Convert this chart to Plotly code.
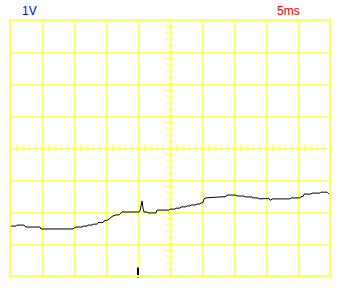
import plotly.graph_objects as go

# time (ms) and voltage (V)
time_ms = [0, 0.94, 1.09, 2.19, 2.5, 4.69, 4.84, 9.84, 10.0, 10.31, 11.25, 11.41, 12.03,
           12.19, 12.81, 12.97, 13.59, 13.75, 14.53, 14.69, 15.31, 15.63, 15.94, 16.56,
           16.88, 17.03, 17.34, 17.5, 20.16, 20.31, 20.47, 20.63, 20.78, 20.94, 21.41,
           21.56, 22.81, 22.97, 24.84, 25.0, 25.78, 25.94, 26.56, 26.72, 27.5, 27.66,
           28.13, 28.28, 29.06, 29.22, 29.69, 29.84, 30.16, 30.31, 30.63, 31.72, 31.88,
           32.81, 33.75, 33.91, 35.31, 35.47, 36.56, 36.72, 37.81, 37.97, 38.75, 38.91,
           39.69, 39.84, 40.47, 40.63, 40.78, 40.94, 43.75, 43.91, 45.31, 45.47, 45.78,
           45.94, 47.03, 47.19, 48.44, 48.59, 49.53, 49.69, 50.0]
volts = [-2.44, -2.44, -2.41, -2.41, -2.47, -2.47, -2.53, -2.53, -2.50, -2.47, -2.47, -2.44,
         -2.44, -2.41, -2.41, -2.38, -2.38, -2.33, -2.33, -2.28, -2.25, -2.19, -2.14, -2.09,
         -2.08, -2.09, -2.03, -2.00, -2.00, -1.97, -1.81, -1.66, -1.88, -2.00, -2.00,
         -2.03, -2.03, -1.94, -1.94, -1.91, -1.91, -1.88, -1.88, -1.84, -1.84, -1.81,
         -1.81, -1.78, -1.78, -1.75, -1.75, -1.72, -1.70, -1.59, -1.56, -1.56, -1.54,
         -1.53, -1.52, -1.47, -1.47, -1.50, -1.50, -1.53, -1.53, -1.56, -1.56, -1.59,
         -1.59, -1.58, -1.58, -1.63, -1.63, -1.59, -1.59, -1.56, -1.56, -1.52, -1.52,
         -1.44, -1.44, -1.41, -1.41, -1.38, -1.38, -1.42, -1.44]

volt_label = "1V"
time_label = "5ms"
trigger_time = 20.0
x_range = [0, 50]
y_range = [-4, 4]
x_div = 5
y_div = 1

GRID = "#ffff5a"

fig = go.Figure()

# center-axis minor ticks
minor_y = [y_range[0] + i * y_div / 5 for i in range(int((y_range[1] - y_range[0]) / y_div * 5) + 1)]
minor_x = [x_range[0] + i * x_div / 5 for i in range(int((x_range[1] - x_range[0]) / x_div * 5) + 1)]
xc = (x_range[0] + x_range[1]) / 2
yc = (y_range[0] + y_range[1]) / 2
fig.add_trace(go.Scatter(x=[xc] * len(minor_y), y=minor_y, mode="markers",
                         marker=dict(symbol="line-ew", size=6, line=dict(color=GRID, width=1)),
                         hoverinfo="skip", showlegend=False))
fig.add_trace(go.Scatter(x=minor_x, y=[yc] * len(minor_x), mode="markers",
                         marker=dict(symbol="line-ns", size=6, line=dict(color=GRID, width=1)),
                         hoverinfo="skip", showlegend=False))

fig.add_trace(go.Scatter(x=time_ms, y=volts, mode="lines",
                         line=dict(color="black", width=1), showlegend=False))

# trigger marker
fig.add_trace(go.Scatter(x=[trigger_time], y=[-3.89], mode="markers",
                         marker=dict(symbol="line-ns", size=7, line=dict(color="black", width=2)),
                         showlegend=False, cliponaxis=False))

fig.add_shape(type="rect", xref="paper", yref="paper", x0=0, x1=1, y0=0, y1=1,
              line=dict(color=GRID, width=2))

fig.add_annotation(text=volt_label, xref="paper", yref="paper", x=0.031, y=1.0,
                   xanchor="left", yanchor="bottom", showarrow=False,
                   font=dict(family="Liberation Sans, Arial", size=12, color="#0000e6"))
fig.add_annotation(text=time_label, xref="paper", yref="paper", x=0.912, y=1.0,
                   xanchor="right", yanchor="bottom", showarrow=False,
                   font=dict(family="Liberation Sans, Arial", size=12, color="#e60000"))

fig.update_layout(
    width=342, height=299,
    margin=dict(l=10, r=12, t=20, b=23),
    paper_bgcolor="white", plot_bgcolor="white",
    xaxis=dict(range=x_range, dtick=x_div, showgrid=True, gridcolor=GRID, gridwidth=1,
               zeroline=False, showticklabels=False, ticks="", showline=False, fixedrange=True),
    yaxis=dict(range=y_range, dtick=y_div, showgrid=True, gridcolor=GRID, gridwidth=1,
               zeroline=False, showticklabels=False, ticks="", showline=False, fixedrange=True),
)

fig.write_html("out.html", config={"displayModeBar": False})
